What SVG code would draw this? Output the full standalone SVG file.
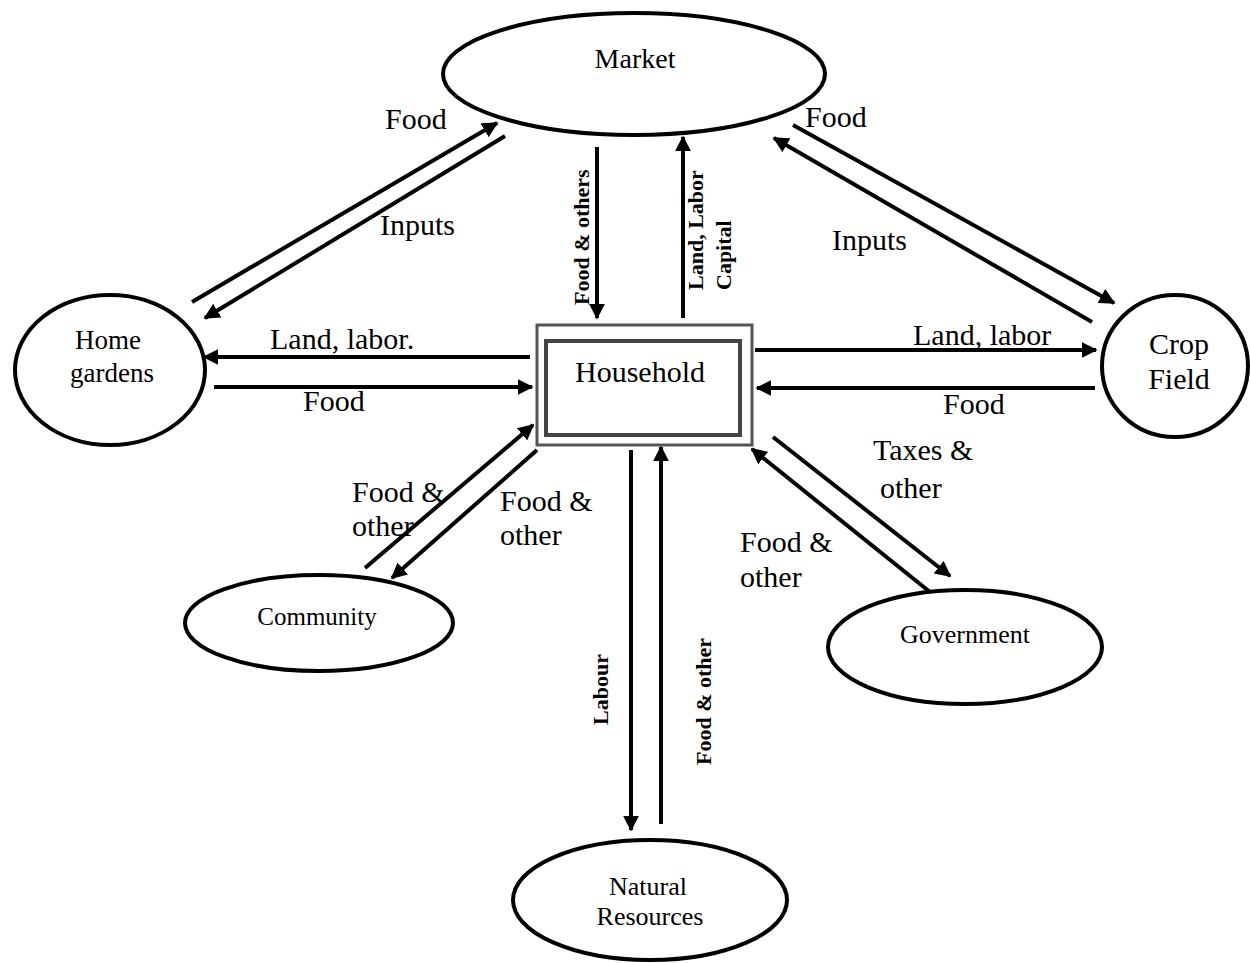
<svg xmlns="http://www.w3.org/2000/svg" width="1250" height="963" viewBox="0 0 1250 963">
<style>
.node{fill:#fff;stroke:#000;stroke-width:4}
.c{stroke:#000;stroke-width:4;fill:none;marker-end:url(#ah)}
</style>
<defs>
<marker id="ah" viewBox="0 0 10 10" refX="9" refY="5" markerWidth="4" markerHeight="4" orient="auto" markerUnits="strokeWidth">
<path d="M0,0 L10,5 L0,10 z" fill="#000"/>
</marker>
</defs>
<rect width="1250" height="963" fill="#fff"/>
<g id="connectors">
<line class="c" x1="192" y1="302" x2="497" y2="123"/>
<line class="c" x1="505" y1="136" x2="205" y2="318"/>
<line class="c" x1="793" y1="125" x2="1114" y2="303"/>
<line class="c" x1="1092" y1="322" x2="774" y2="138"/>
<line class="c" x1="597" y1="147" x2="597" y2="318"/>
<line class="c" x1="683" y1="318" x2="683" y2="137"/>
<line class="c" x1="530" y1="357" x2="204" y2="357"/>
<line class="c" x1="214" y1="387" x2="532" y2="387"/>
<line class="c" x1="755" y1="350" x2="1096" y2="350"/>
<line class="c" x1="1095" y1="388" x2="757" y2="388"/>
<line class="c" x1="365" y1="568" x2="533" y2="425"/>
<line class="c" x1="537" y1="450" x2="392" y2="578"/>
<line class="c" x1="773" y1="437" x2="950" y2="576"/>
<line class="c" x1="930" y1="592" x2="752" y2="449"/>
<line class="c" x1="631" y1="450" x2="631" y2="830"/>
<line class="c" x1="661" y1="824" x2="661" y2="447"/>
<g font-family="'Liberation Serif','Times New Roman',serif" font-size="30" fill="#000">
<text x="385" y="129">Food</text>
<text x="380" y="235">Inputs</text>
<text x="805" y="127">Food</text>
<text x="832" y="250">Inputs</text>
<text x="270" y="349">Land, labor.</text>
<text x="303" y="411">Food</text>
<text x="913" y="345">Land, labor</text>
<text x="943" y="414">Food</text>
<text x="352" y="502">Food &amp;</text>
<text x="352" y="536">other</text>
<text x="500" y="511">Food &amp;</text>
<text x="500" y="545">other</text>
<text x="873" y="460">Taxes &amp;</text>
<text x="880" y="498">other</text>
<text x="740" y="552">Food &amp;</text>
<text x="740" y="587">other</text>
</g>
<g font-family="'Liberation Serif','Times New Roman',serif" font-size="22" font-weight="bold" fill="#000">
<text transform="translate(589,305) rotate(-90)">Food &amp; others</text>
<text transform="translate(703,290) rotate(-90)">Land, Labor</text>
<text transform="translate(731,290) rotate(-90)">Capital</text>
<text transform="translate(608,725) rotate(-90)">Labour</text>
<text transform="translate(711,765) rotate(-90)">Food &amp; other</text>
</g>
</g>
<g font-family="'Liberation Serif','Times New Roman',serif" fill="#000" text-anchor="middle">
<g id="market">
<ellipse class="node" cx="634" cy="74" rx="191" ry="61"/>
<text x="635" y="68" font-size="28">Market</text>
</g>
<g id="household">
<rect x="537" y="325" width="215" height="120" fill="#fff" stroke="#555" stroke-width="3"/>
<rect x="546" y="341" width="194" height="94" fill="#fff" stroke="#444" stroke-width="4"/>
<text x="640" y="382" font-size="30">Household</text>
</g>
<g id="home-gardens">
<ellipse class="node" cx="110" cy="370" rx="95" ry="75"/>
<text x="108" y="349" font-size="27">Home</text>
<text x="112" y="382" font-size="27">gardens</text>
</g>
<g id="crop-field">
<ellipse class="node" cx="1175" cy="366" rx="73" ry="71"/>
<text x="1179" y="354" font-size="30">Crop</text>
<text x="1179" y="389" font-size="30">Field</text>
</g>
<g id="community">
<ellipse class="node" cx="319" cy="623" rx="134" ry="48"/>
<text x="317" y="625" font-size="25">Community</text>
</g>
<g id="government">
<ellipse class="node" cx="965" cy="647" rx="137" ry="57"/>
<text x="965" y="643" font-size="26">Government</text>
</g>
<g id="natural-resources">
<ellipse class="node" cx="650" cy="900" rx="137" ry="60"/>
<text x="648" y="895" font-size="26">Natural</text>
<text x="650" y="925" font-size="26">Resources</text>
</g>
</g>
</svg>
